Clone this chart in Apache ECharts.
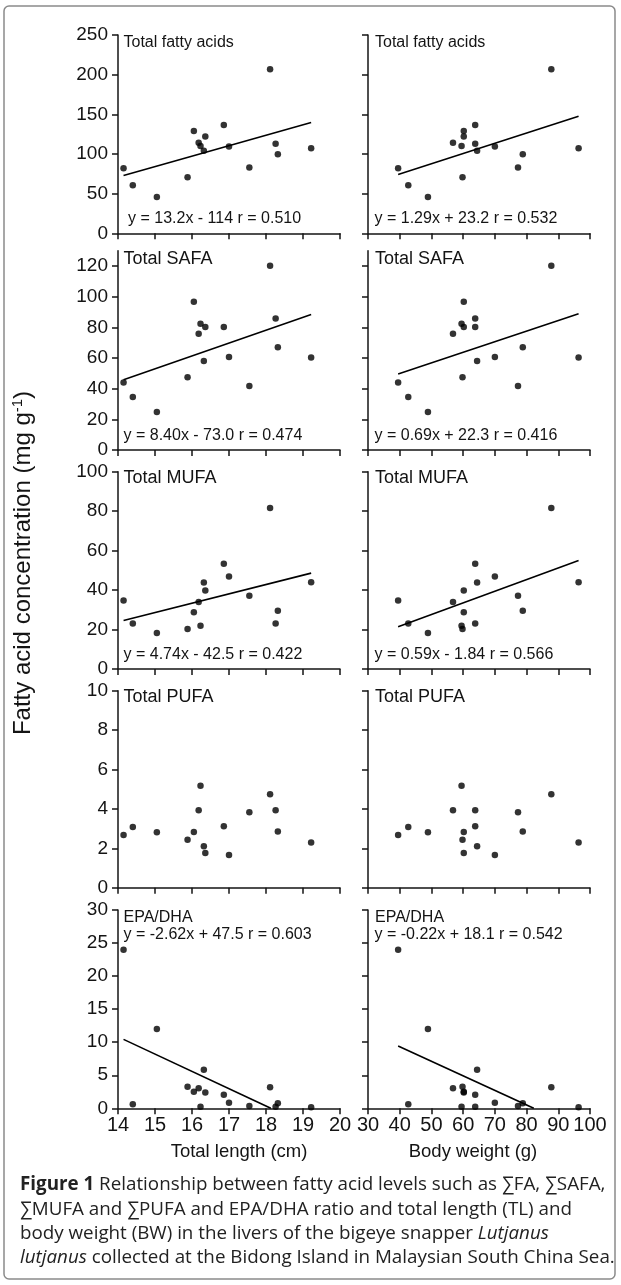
<!DOCTYPE html>
<html><head><meta charset="utf-8">
<script src="https://cdn.jsdelivr.net/npm/echarts@6/dist/echarts.min.js"></script>
<style>html,body{margin:0;padding:0;background:#fff}#c{width:621px;height:1285px}</style>
</head><body><div id="c"></div>
<script>
// ---- data (one entry per fish) ----
const fishTL   = [14.15, 14.40, 15.05, 15.88, 16.05, 16.18, 16.23, 16.32, 16.36, 16.86, 17.00, 17.55, 18.11, 18.26, 18.32, 19.22];
const fishBW   = [39.5, 42.7, 48.9, 59.8, 60.2, 56.8, 59.5, 64.4, 60.2, 63.8, 70.0, 77.3, 87.8, 63.8, 78.8, 96.4];
const totalFA  = [81.9, 60.5, 45.8, 70.6, 129.0, 114.3, 110.1, 104.2, 121.9, 136.6, 109.3, 82.8, 206.7, 113.0, 99.6, 107.2];
const totalSAFA= [44.1, 34.6, 24.8, 47.4, 96.7, 75.9, 82.4, 58.0, 80.2, 80.2, 60.7, 41.7, 120.2, 85.8, 67.0, 60.4];
const totalMUFA= [34.7, 23.0, 18.3, 20.3, 28.8, 34.0, 21.9, 43.8, 39.8, 53.3, 46.9, 37.1, 81.6, 23.0, 29.5, 44.0];
const totalPUFA= [2.68, 3.08, 2.81, 2.44, 2.83, 3.93, 5.18, 2.10, 1.76, 3.12, 1.66, 3.83, 4.74, 3.93, 2.85, 2.30];
const epaDha   = [24.0, 0.6, 12.0, 3.25, 2.5, 3.05, 0.25, 5.85, 2.4, 2.05, 0.85, 0.35, 3.2, 0.25, 0.75, 0.15];

const panelNames = ['Total fatty acids', 'Total SAFA', 'Total MUFA', 'Total PUFA', 'EPA/DHA'];
const yMax  = [250, 130, 100, 10, 30];
const yStep = [50, 20, 20, 2, 5];
const yTickTop = [250, 120, 100, 10, 30];

const tlAxis = [14, 20, 1];
const bwAxis = [30, 100, 10];

const tlSlope     = [13.2, 8.40, 4.74, null, -2.62];
const tlIntercept = [-114, -73.0, -42.5, null, 47.5];
const tlEquation  = ['y = 13.2x - 114 r = 0.510', 'y = 8.40x - 73.0 r = 0.474', 'y = 4.74x - 42.5 r = 0.422', null, 'y = -2.62x + 47.5 r = 0.603'];
const bwSlope     = [1.29, 0.69, 0.59, null, -0.22];
const bwIntercept = [23.2, 22.3, -1.84, null, 18.1];
const bwEquation  = ['y = 1.29x + 23.2 r = 0.532', 'y = 0.69x + 22.3 r = 0.416', 'y = 0.59x - 1.84 r = 0.566', null, 'y = -0.22x + 18.1 r = 0.542'];

const xTitles = ['Total length (cm)', 'Body weight (g)'];
const yTitle = 'Fatty acid concentration (mg g';

// ---- layout ----
const colLeft = [118, 368], colWidth = 222;
const rowTop = [35, 250.7, 471.7, 690.7, 910];
const rowBottom = [233.3, 450, 669, 887.7, 1108.3];
const titleSize = [16, 18, 18, 18, 16];
const titleDy = [8, 8.5, 6, 6, 7.3];
const xTitleCenter = [239, 473];
const FONT = '"Liberation Sans", Arial, Helvetica, sans-serif';
const INK = '#141414';

const rows = [totalFA, totalSAFA, totalMUFA, totalPUFA, epaDha];
const xs = [fishTL, fishBW];
const slopes = [tlSlope, bwSlope], intercepts = [tlIntercept, bwIntercept], eqs = [tlEquation, bwEquation];
const axes = [tlAxis, bwAxis];

function fitLine(x, a, b) {
  const x0 = Math.min(...x);
  let x1 = Math.max(...x);
  if (a * x1 + b < 0) x1 = -b / a;
  return [[x0, a * x0 + b], [x1, a * x1 + b]];
}
function range(a, b, s) { const r = []; for (let v = a; v <= b + 1e-9; v += s) r.push(+v.toFixed(6)); return r; }

const grid = [], xAxis = [], yAxis = [], series = [], graphic = [];
for (let r = 0; r < 5; r++) {
  for (let c = 0; c < 2; c++) {
    const gi = grid.length;
    grid.push({left: colLeft[c], width: colWidth, top: rowTop[r], height: rowBottom[r] - rowTop[r], outerBoundsMode: 'none', containLabel: false});
    const ax = axes[c];
    const last = r === 4;
    xAxis.push({
      type: 'value', gridIndex: gi, min: ax[0], max: ax[1], interval: ax[2],
      axisLine: {onZero: false, lineStyle: {color: INK, width: 1.5}},
      axisTick: {inside: false, length: 6, lineStyle: {color: INK, width: 1.5}},
      axisLabel: {show: last, color: INK, fontSize: 20, fontFamily: FONT, margin: 7},
      splitLine: {show: false}
    });
    const ticks = range(0, yTickTop[r], yStep[r]);
    yAxis.push({
      type: 'value', gridIndex: gi, min: 0, max: yMax[r], interval: yStep[r],
      axisLine: {onZero: false, lineStyle: {color: INK, width: 1.5}},
      axisTick: {inside: false, length: 6, lineStyle: {color: INK, width: 1.5}, customValues: ticks},
      axisLabel: {show: c === 0, color: INK, fontSize: 19, fontFamily: FONT, margin: 10, customValues: ticks},
      splitLine: {show: false}
    });
    series.push({
      type: 'scatter', xAxisIndex: gi, yAxisIndex: gi, symbol: 'circle', symbolSize: 6.5,
      itemStyle: {color: '#000'}, silent: true,
      data: xs[c].map((v, i) => [v, rows[r][i]])
    });
    if (slopes[c][r] !== null) {
      series.push({
        type: 'line', xAxisIndex: gi, yAxisIndex: gi, symbol: 'none', silent: true,
        lineStyle: {color: '#000', width: 1.6},
        data: fitLine(xs[c], slopes[c][r], intercepts[c][r])
      });
      const eqY = r === 4 ? rowTop[r] + 25 : rowBottom[r] - 14.5;
      graphic.push({type: 'text', style: {text: eqs[c][r], x: colLeft[c] + (c === 0 ? (r === 0 ? 10 : 5.5) : 6.5), y: eqY,
        fill: INK, font: '16px ' + FONT, textVerticalAlign: 'middle'}});
    }
    graphic.push({type: 'text', style: {text: panelNames[r], x: colLeft[c] + (c === 0 ? 5.5 : 7), y: rowTop[r] + titleDy[r],
      fill: INK, font: titleSize[r] + 'px ' + FONT, textVerticalAlign: 'middle'}});
  }
}

// axis titles
xTitles.forEach((t, c) => graphic.push({type: 'text', style: {text: t, x: xTitleCenter[c], y: 1152,
  fill: INK, font: '18.5px ' + FONT, textAlign: 'center', textVerticalAlign: 'middle'}}));
graphic.push({type: 'text', x: 23, y: 563, rotation: Math.PI / 2, style: {
  text: '{n|' + yTitle + '}{s|-1}{n|)}', textAlign: 'center', textVerticalAlign: 'middle', fill: INK,
  rich: {
    n: {fontSize: 24, fontFamily: FONT, fill: INK, color: INK},
    s: {fontSize: 15, fontFamily: FONT, fill: INK, color: INK, verticalAlign: 'top', padding: [0, 0, 10, 0]}
  }}});

// frame
graphic.unshift({type: 'rect', shape: {x: 4, y: 6, width: 611, height: 1273, r: 5}, style: {fill: 'none', stroke: '#8a8a8a', lineWidth: 1.5}});

// caption
const CAP = '"Open Sans", "Noto Sans", sans-serif';
const CAPSIZE = 18.8;
const capRich = {
  b: {fontFamily: CAP, fontSize: CAPSIZE, fontWeight: 'bold', color: '#222', fill: '#222'},
  r: {fontFamily: CAP, fontSize: CAPSIZE, color: '#222', fill: '#222'},
  i: {fontFamily: CAP, fontSize: CAPSIZE, fontStyle: 'italic', color: '#222', fill: '#222'}
};
const capLines = [
  '{b|Figure 1}{r| Relationship between fatty acid levels such as \u2211FA, \u2211SAFA,}',
  '{r|\u2211MUFA and \u2211PUFA and EPA/DHA ratio and total length (TL) and}',
  '{r|body weight (BW) in the livers of the bigeye snapper }{i|Lutjanus}',
  '{i|lutjanus}{r| collected at the Bidong Island in Malaysian South China Sea.}'
];
const capY = [1185, 1209.3, 1233.6, 1258];
capLines.forEach((t, k) => graphic.push({type: 'text', style: {text: t, x: 20, y: capY[k], rich: capRich, textVerticalAlign: 'middle', fill: '#222'}}));

const chart = echarts.init(document.getElementById('c'), null, {renderer: 'canvas'});
chart.setOption({backgroundColor: '#fff', animation: false, grid, xAxis, yAxis, series, graphic});
</script></body></html>
